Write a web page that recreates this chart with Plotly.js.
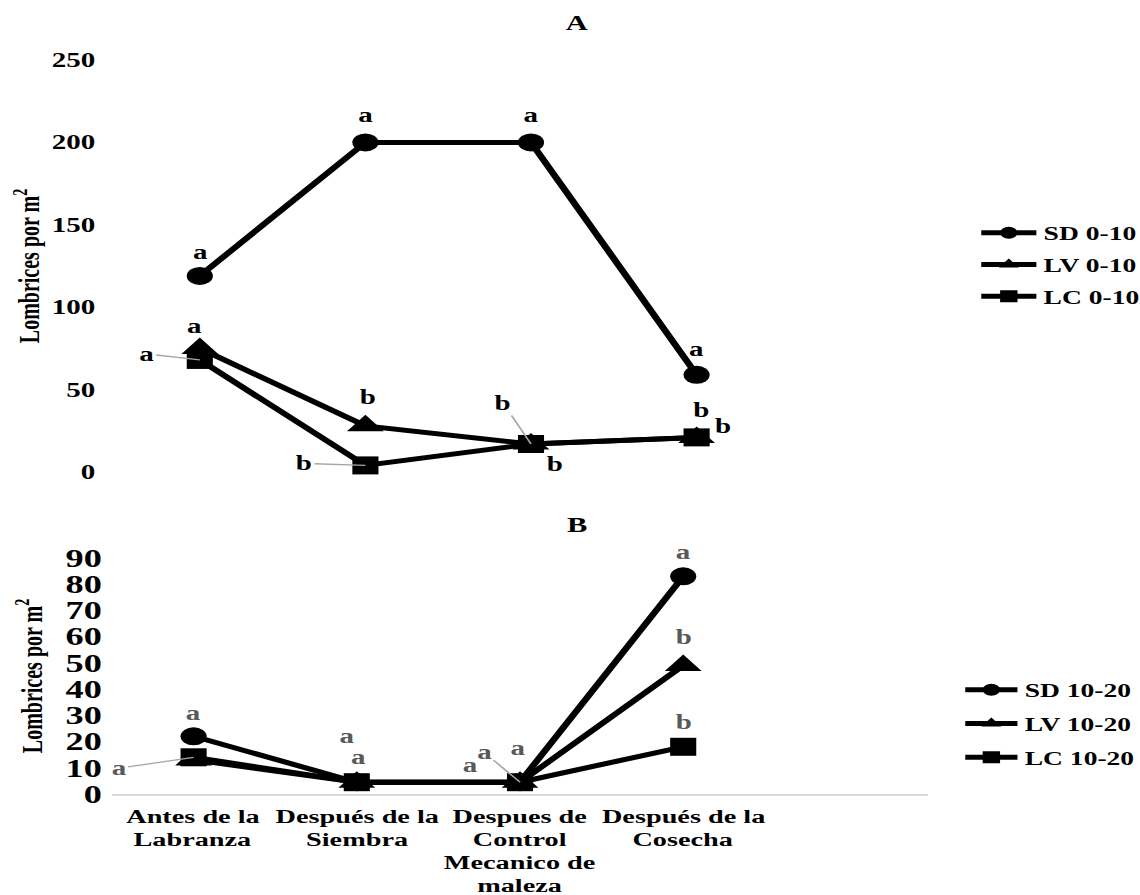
<!DOCTYPE html>
<html>
<head>
<meta charset="utf-8">
<script src="https://cdn.plot.ly/plotly-3.0.1.min.js"></script>
<style>
html,body{margin:0;padding:0;background:#fff;overflow:hidden}
#wrap{width:1140px;height:895px;overflow:hidden;background:#fff}
#chart{width:800px;height:895px;transform:scaleX(1.450382);transform-origin:0 0}
</style>
</head>
<body>
<div id="wrap"><div id="chart"></div></div>
<script>
// ---------------- DATA ----------------
const categories = ['Antes de la Labranza', 'Después de la Siembra', 'Despues de Control Mecanico de maleza', 'Después de la Cosecha'];
const tickLabels = [['Antes de la', 'Labranza'], ['Después de la', 'Siembra'], ['Despues de', 'Control', 'Mecanico de', 'maleza'], ['Después de la', 'Cosecha']];

const namesTop = ['SD 0-10', 'LV 0-10', 'LC 0-10'];
const sd0_10 = [119, 200, 200, 59];
const lv0_10 = [75, 28, 17, 21];
const lc0_10 = [68, 4, 17, 21];

const namesBottom = ['SD 10-20', 'LV 10-20', 'LC 10-20'];
const sd10_20 = [22, 4.5, 4.5, 83];
const lv10_20 = [13, 4.5, 4.5, 49];
const lc10_20 = [14, 4.5, 4.5, 18];

const lettersSD0 = ['a', 'a', 'a', 'a'];
const lettersLV0 = ['a', 'b', 'b', 'b'];
const lettersLC0 = ['a', 'b', 'b', 'b'];
const lettersSD10 = ['a', 'a', 'a', 'a'];
const lettersLV10 = ['', '', 'a', 'b'];
const lettersLC10 = ['a', 'a', 'a', 'b'];

const panelTitles = ['A', 'B'];
const yTitle = 'Lombrices por m<sup>2</sup>';

// ---------------- STYLE / PLACEMENT ----------------
const S = 1140 / 786;            // horizontal stretch of the original picture
const W = 800, H = 895;          // plotly canvas (before stretch)
const fx = X => X / S / W;       // final-pixel x -> paper fraction
const fy = Y => 1 - Y / H;       // final-pixel y -> paper fraction
const FONT = 'Liberation Serif, Times New Roman, serif';
const symbols = ['circle', 'triangle-up', 'square'];
const symSizes = [18, 22, 18];
// label offsets in final pixels: [dx, dy, leader]
const offSD0 = [[0, -24], [0, -27], [0, -27], [0, -26]];
const offLV0 = [[-5, -22], [2, -29], [24, 20], [4, -27]];
const offLC0 = [[-53, -6, 1], [-61, -2, 1], [-28, -41, 1], [27, -11]];
const offSD10 = [[0, -23], [-10, -46], [-2, -34], [0, -24]];
const offLV10 = [[0, 0], [0, 0], [-36, -30, 1], [0, -29]];
const offLC10 = [[-75, 11, 1], [1, -25], [-50, -17], [0, -25]];

function trace(name, y, i, xa, ya, leg) {
  return {
    type: 'scatter', mode: 'lines+markers', name: name, x: categories, y: y,
    xaxis: xa, yaxis: ya, legend: leg, legendgroup: name, cliponaxis: false,
    line: {color: '#000000', width: 5},
    marker: {symbol: symbols[i], size: symSizes[i], color: '#000000'},
    hoverinfo: 'skip'
  };
}

const data = [
  trace(namesTop[0], sd0_10, 0, 'x', 'y', 'legend'),
  trace(namesTop[1], lv0_10, 1, 'x', 'y', 'legend'),
  trace(namesTop[2], lc0_10, 2, 'x', 'y', 'legend'),
  trace(namesBottom[0], sd10_20, 0, 'x2', 'y2', 'legend2'),
  trace(namesBottom[1], lv10_20, 1, 'x2', 'y2', 'legend2'),
  trace(namesBottom[2], lc10_20, 2, 'x2', 'y2', 'legend2')
];

const annotations = [];
function addLetters(letters, values, offs, xref, yref, color) {
  letters.forEach((t, i) => {
    if (!t) return;
    const o = offs[i];
    const a = {
      x: categories[i], y: values[i], xref: xref, yref: yref, text: t,
      font: {family: FONT, size: 20, color: color, weight: 700}
    };
    if (o[2]) {
      Object.assign(a, {showarrow: true, ax: o[0] / S, ay: o[1], arrowhead: 0,
        arrowwidth: 1.3, arrowcolor: '#a6a6a6', standoff: 0, startstandoff: 0});
    } else {
      Object.assign(a, {showarrow: false, xshift: o[0] / S, yshift: -o[1],
        xanchor: 'center', yanchor: 'middle'});
    }
    annotations.push(a);
  });
}
addLetters(lettersSD0, sd0_10, offSD0, 'x', 'y', '#000000');
addLetters(lettersLV0, lv0_10, offLV0, 'x', 'y', '#000000');
addLetters(lettersLC0, lc0_10, offLC0, 'x', 'y', '#000000');
addLetters(lettersSD10, sd10_20, offSD10, 'x2', 'y2', '#595959');
addLetters(lettersLV10, lv10_20, offLV10, 'x2', 'y2', '#595959');
addLetters(lettersLC10, lc10_20, offLC10, 'x2', 'y2', '#595959');

// panel titles
[[panelTitles[0], 23], [panelTitles[1], 525]].forEach(([t, py]) => {
  annotations.push({text: t, xref: 'paper', yref: 'paper', x: fx(577), y: fy(py),
    xanchor: 'center', yanchor: 'middle', showarrow: false,
    font: {family: FONT, size: 21, color: '#000000', weight: 700}});
});

// category labels under the bottom panel (one annotation per line)
tickLabels.forEach((lines, i) => {
  lines.forEach((ln, k) => {
    annotations.push({text: ln, xref: 'x2', yref: 'paper', x: categories[i],
      y: fy(816 + 23 * k), xanchor: 'center', yanchor: 'middle', showarrow: false,
      font: {family: FONT, size: 19.5, color: '#000000', weight: 700}});
  });
});

const tickFont = {family: FONT, size: 20, color: '#000000', weight: 700};
const titleFont = {family: FONT, size: 20, color: '#000000', weight: 700};
const legFont = {family: FONT, size: 19, color: '#000000', weight: 700};

const layout = {
  width: W, height: H,
  margin: {l: 0, r: 0, t: 0, b: 0},
  paper_bgcolor: '#ffffff', plot_bgcolor: '#ffffff',
  showlegend: true,
  xaxis: {domain: [fx(117), fx(945)], anchor: 'y', type: 'category',
    categoryarray: categories, range: [-0.5, 4.5], showticklabels: false,
    showgrid: false, zeroline: false, showline: false, ticks: '', fixedrange: true},
  yaxis: {domain: [fy(472), fy(60)], anchor: 'x', range: [0, 250],
    tickvals: [0, 50, 100, 150, 200, 250], showgrid: false, zeroline: false,
    showline: false, ticks: '', tickfont: tickFont, ticklabelstandoff: 14,
    title: {text: yTitle, font: titleFont, standoff: 2}, fixedrange: true},
  xaxis2: {domain: [fx(112), fx(928)], anchor: 'y2', type: 'category',
    categoryarray: categories, range: [-0.5, 4.5], showticklabels: false,
    showgrid: false, zeroline: false, showline: true, linecolor: '#d9d9d9',
    linewidth: 1.5, ticks: '', fixedrange: true},
  yaxis2: {domain: [fy(794), fy(558)], anchor: 'x2', range: [0, 90],
    tickvals: [0, 10, 20, 30, 40, 50, 60, 70, 80, 90], showgrid: false,
    zeroline: false, showline: false, ticks: '',
    tickfont: {family: FONT, size: 25, color: '#000000', weight: 700},
    ticklabelstandoff: 6, title: {text: yTitle, font: titleFont, standoff: 10},
    fixedrange: true},
  legend: {x: fx(974), y: fy(214), xanchor: 'left', yanchor: 'top',
    bgcolor: 'rgba(0,0,0,0)', borderwidth: 0, font: legFont, itemsizing: 'constant',
    itemwidth: 38, tracegroupgap: 4, traceorder: 'grouped'},
  legend2: {x: fx(958), y: fy(671), xanchor: 'left', yanchor: 'top',
    bgcolor: 'rgba(0,0,0,0)', borderwidth: 0, font: legFont, itemsizing: 'constant',
    itemwidth: 36, tracegroupgap: 6, traceorder: 'grouped'},
  annotations: annotations
};

Plotly.newPlot('chart', data, layout, {displayModeBar: false, staticPlot: true});
</script>
</body>
</html>
